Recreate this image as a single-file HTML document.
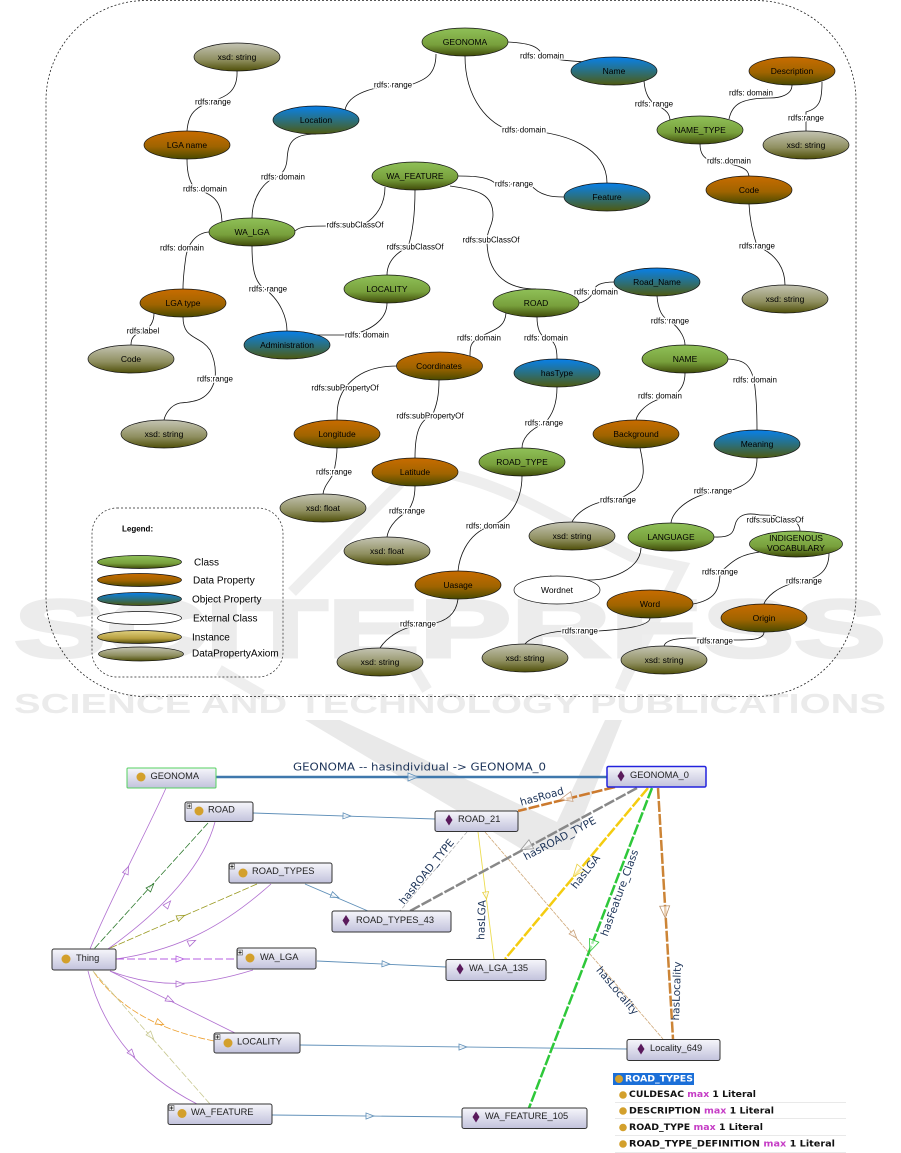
<!DOCTYPE html>
<html>
<head>
<meta charset="utf-8">
<style>
html,body{margin:0;padding:0;background:#fff;width:901px;height:1153px;overflow:hidden}
svg{display:block;filter:blur(0.35px)}
text{font-family:"Liberation Sans",Arial,sans-serif;fill:#000}
.n{rx:43px;ry:14px;stroke:#111;stroke-width:.7}
.nt{font-size:8.5px;text-anchor:middle;dominant-baseline:central}
.el{font-size:8px;text-anchor:middle;dominant-baseline:central;paint-order:stroke;stroke:#fff;stroke-width:2.5px}
.e path{fill:none;stroke:#111;stroke-width:.8}
.c{fill:url(#gc)}.d{fill:url(#gd)}.o{fill:url(#go)}.x{fill:url(#gx)}.w{fill:#fff}
.lg{font-size:10px;dominant-baseline:central}
.b{fill:url(#gb);stroke:#333;stroke-width:1}
.bt{font-size:9.3px;dominant-baseline:central;fill:#222}
.dot{fill:#d3a02c}
.dm{fill:#5a1a5c}
.ar{fill:#fff;fill-opacity:.6;stroke-width:.8}
.lb{font-family:"DejaVu Sans","Liberation Sans",sans-serif;font-size:10.5px;fill:#1c3358;text-anchor:middle;dominant-baseline:central}
.tb{font-family:"DejaVu Sans","Liberation Sans",sans-serif;font-size:9px;font-weight:bold;fill:#111;dominant-baseline:central}
.tb tspan{fill:#c53cc5}
</style>
</head>
<body>
<svg width="901" height="1153" viewBox="0 0 901 1153" xmlns="http://www.w3.org/2000/svg">
<defs>
<linearGradient id="gc" x1="0" y1="0" x2="0" y2="1"><stop offset="0" stop-color="#8fc058"/><stop offset=".6" stop-color="#78a03c"/><stop offset="1" stop-color="#3f4a08"/></linearGradient>
<linearGradient id="gd" x1="0" y1="0" x2="0" y2="1"><stop offset="0" stop-color="#c86c00"/><stop offset=".55" stop-color="#a06400"/><stop offset="1" stop-color="#4a4a00"/></linearGradient>
<linearGradient id="go" x1="0" y1="0" x2="0" y2="1"><stop offset="0" stop-color="#0880ea"/><stop offset=".5" stop-color="#2a7080"/><stop offset="1" stop-color="#4f5a10"/></linearGradient>
<linearGradient id="gx" x1="0" y1="0" x2="0" y2="1"><stop offset="0" stop-color="#c4c4b4"/><stop offset=".6" stop-color="#8f8f60"/><stop offset="1" stop-color="#4f4f08"/></linearGradient>
<linearGradient id="gi" x1="0" y1="0" x2="0" y2="1"><stop offset="0" stop-color="#e0d080"/><stop offset=".6" stop-color="#b8a040"/><stop offset="1" stop-color="#4f4a08"/></linearGradient>
<linearGradient id="gb" x1="0" y1="0" x2="0" y2="1"><stop offset="0" stop-color="#f6f6fb"/><stop offset="1" stop-color="#c2c2dc"/></linearGradient>
</defs>

<!-- watermark -->
<g>
<g fill="none" stroke="#eeeeee" stroke-width="11">
<path d="M405 478L292 592"/>
<path d="M450 474C520 490 575 530 633 557L682 567L623 683"/>
<path d="M219 670L262 695"/>
<path d="M415 670L427 690"/>
<path d="M632 662L620 690"/>
</g>
<polygon points="305,720 340,720 383,740 557,822 605,720 622,720 570,850 523,850" fill="#e9e9e9"/>
<text x="14" y="657" font-size="82" font-weight="bold" textLength="872" lengthAdjust="spacingAndGlyphs" style="fill:#ececec;stroke:#ececec;stroke-width:3">SCITEPRESS</text>
<text x="14" y="713" font-size="27.500" font-weight="bold" textLength="872" lengthAdjust="spacingAndGlyphs" style="fill:#ebebeb">SCIENCE AND TECHNOLOGY PUBLICATIONS</text>
</g>

<rect x="46" y="0.5" width="810" height="696" rx="100" ry="100" fill="none" stroke="#222" stroke-width=".8" stroke-dasharray="2 2"/>
<rect x="92" y="508" width="191" height="169" rx="25" ry="25" fill="none" stroke="#222" stroke-width=".7" stroke-dasharray="2 2"/>

<g class="e">
<path d="M237 71C238 92 225 97 213 101C191 108 188 118 187 131"/>
<path d="M436 54C436 75 425 80 410 85C370 85 348 95 345 110"/>
<path d="M316 134C290 134 288 145 287 160C286 170 282 172 280 176C262 180 252 200 252 218"/>
<path d="M187 159C187 175 190 182 195 189C218 195 221 205 222 222"/>
<path d="M385 187C385 210 370 222 360 226L328 226C310 226 300 226 295 231"/>
<path d="M415 190C415 215 412 235 408 247C392 255 387 265 387 275"/>
<path d="M209 232C195 233 188 245 186 256C184 270 183 280 183 289"/>
<path d="M252 246C252 270 255 280 262 287C282 300 287 320 287 331"/>
<path d="M387 303C387 320 370 331 350 335L316 335"/>
<path d="M154 313C154 322 150 328 143 331C132 335 131 340 131 345"/>
<path d="M183 317C183 340 200 335 210 350C215 360 216 370 215 379C210 400 195 402 180 403C170 405 165 415 164 420"/>
<path d="M397 366C370 366 355 375 345 388C337 400 337 410 337 420"/>
<path d="M439 380C439 395 437 405 432 416C417 420 415 440 415 458"/>
<path d="M337 448C337 458 335 465 334 472C331 480 324 485 323 494"/>
<path d="M415 486C415 498 412 505 408 511C393 520 388 530 387 537"/>
<path d="M522 476C522 500 510 520 490 526C465 535 459 560 458 571"/>
<path d="M458 599C456 615 445 622 430 624C400 625 385 640 380 648"/>
<path d="M557 387C557 405 552 415 545 423C528 430 522 440 522 448"/>
<path d="M537 317C537 328 540 336 546 338C556 340 557 350 557 359"/>
<path d="M506 313C505 330 490 330 479 338C470 342 470 348 470 356"/>
<path d="M450 186C480 190 493 195 493 215C493 225 487 230 487 240C487 285 520 289 536 289"/>
<path d="M458 176C480 176 490 178 496 184L530 184C540 197 555 197 564 197"/>
<path d="M465 56C465 100 490 125 510 130C570 130 607 150 607 183"/>
<path d="M508 42C525 43 540 45 542 56C560 61 575 61 585 62"/>
<path d="M644 81C645 95 650 100 654 104C668 110 670 115 670 121"/>
<path d="M792 85C792 95 780 98 770 98C740 98 732 105 729 119"/>
<path d="M822 82C822 100 820 108 806 112L806 131"/>
<path d="M700 144C700 155 705 158 710 161C745 165 748 170 749 176"/>
<path d="M749 204C750 225 755 240 757 246C778 255 785 270 785 285"/>
<path d="M615 282C600 282 595 285 593 292C590 300 580 303 579 303"/>
<path d="M657 296C658 310 662 318 670 321C682 330 685 340 685 345"/>
<path d="M728 359C745 360 750 365 754 380C757 400 757 420 757 430"/>
<path d="M685 373C685 385 680 392 672 396C645 400 637 415 636 420"/>
<path d="M640 448C645 470 645 480 635 490L618 500C590 500 575 515 572 522"/>
<path d="M757 458C757 480 745 485 730 491C695 490 672 510 671 523"/>
<path d="M714 537C735 538 733 530 736 522C740 513 750 513 760 515C790 515 800 522 800 531"/>
<path d="M641 548C640 570 610 580 590 580C575 580 565 578 550 576"/>
<path d="M760 552C735 555 730 565 720 572C720 590 715 600 693 604"/>
<path d="M829 553C829 570 820 577 804 581C775 585 765 600 764 604"/>
<path d="M650 618C650 625 630 629 598 631L563 631C540 633 528 640 525 644"/>
<path d="M764 632C764 640 750 640 735 640L695 638C670 638 665 642 664 646"/>
</g>

<g>
<ellipse class="n x" cx="237" cy="57"/>
<ellipse class="n d" cx="187" cy="145"/>
<ellipse class="n o" cx="316" cy="120"/>
<ellipse class="n c" cx="465" cy="42"/>
<ellipse class="n o" cx="614" cy="71"/>
<ellipse class="n d" cx="792" cy="71"/>
<ellipse class="n c" cx="700" cy="130"/>
<ellipse class="n x" cx="806" cy="145"/>
<ellipse class="n d" cx="749" cy="190"/>
<ellipse class="n o" cx="607" cy="197"/>
<ellipse class="n c" cx="415" cy="176"/>
<ellipse class="n c" cx="252" cy="232"/>
<ellipse class="n c" cx="387" cy="289"/>
<ellipse class="n d" cx="183" cy="303"/>
<ellipse class="n o" cx="287" cy="345"/>
<ellipse class="n c" cx="536" cy="303"/>
<ellipse class="n o" cx="657" cy="282"/>
<ellipse class="n x" cx="785" cy="299"/>
<ellipse class="n c" cx="685" cy="359"/>
<ellipse class="n o" cx="557" cy="373"/>
<ellipse class="n d" cx="439.500" cy="366"/>
<ellipse class="n x" cx="131" cy="359"/>
<ellipse class="n x" cx="164" cy="434"/>
<ellipse class="n d" cx="337" cy="434"/>
<ellipse class="n d" cx="415" cy="472"/>
<ellipse class="n x" cx="323" cy="508"/>
<ellipse class="n x" cx="387" cy="551"/>
<ellipse class="n d" cx="458" cy="585"/>
<ellipse class="n x" cx="380" cy="662"/>
<ellipse class="n c" cx="522" cy="462"/>
<ellipse class="n d" cx="636" cy="434"/>
<ellipse class="n o" cx="757" cy="444"/>
<ellipse class="n x" cx="572" cy="536"/>
<ellipse class="n c" cx="671" cy="537"/>
<ellipse class="n c" cx="796" cy="544" style="rx:46.500px;ry:13px"/>
<ellipse class="n w" cx="557" cy="590"/>
<ellipse class="n d" cx="650" cy="604"/>
<ellipse class="n d" cx="764" cy="618"/>
<ellipse class="n x" cx="525" cy="658"/>
<ellipse class="n x" cx="664" cy="660"/>
</g>

<g>
<text class="nt" x="237" y="57">xsd: string</text>
<text class="nt" x="187" y="145">LGA name</text>
<text class="nt" x="316" y="120">Location</text>
<text class="nt" x="465" y="42">GEONOMA</text>
<text class="nt" x="614" y="71">Name</text>
<text class="nt" x="792" y="71">Description</text>
<text class="nt" x="700" y="130">NAME_TYPE</text>
<text class="nt" x="806" y="145">xsd: string</text>
<text class="nt" x="749" y="190">Code</text>
<text class="nt" x="607" y="197">Feature</text>
<text class="nt" x="415" y="176">WA_FEATURE</text>
<text class="nt" x="252" y="232">WA_LGA</text>
<text class="nt" x="387" y="289">LOCALITY</text>
<text class="nt" x="183" y="303">LGA type</text>
<text class="nt" x="287" y="345">Administration</text>
<text class="nt" x="536" y="303">ROAD</text>
<text class="nt" x="657" y="282">Road_Name</text>
<text class="nt" x="785" y="299">xsd: string</text>
<text class="nt" x="685" y="359">NAME</text>
<text class="nt" x="557" y="373">hasType</text>
<text class="nt" x="439" y="366">Coordinates</text>
<text class="nt" x="131" y="359">Code</text>
<text class="nt" x="164" y="434">xsd: string</text>
<text class="nt" x="337" y="434">Longitude</text>
<text class="nt" x="415" y="472">Latitude</text>
<text class="nt" x="323" y="508">xsd: float</text>
<text class="nt" x="387" y="551">xsd: float</text>
<text class="nt" x="458" y="585">Uasage</text>
<text class="nt" x="380" y="662">xsd: string</text>
<text class="nt" x="522" y="462">ROAD_TYPE</text>
<text class="nt" x="636" y="434">Background</text>
<text class="nt" x="757" y="444">Meaning</text>
<text class="nt" x="572" y="536">xsd: string</text>
<text class="nt" x="671" y="537">LANGUAGE</text>
<text class="nt" x="796" y="538">INDIGENOUS</text>
<text class="nt" x="796" y="548">VOCABULARY</text>
<text class="nt" x="557" y="590">Wordnet</text>
<text class="nt" x="650" y="604">Word</text>
<text class="nt" x="764" y="618">Origin</text>
<text class="nt" x="525" y="658">xsd: string</text>
<text class="nt" x="664" y="660">xsd: string</text>
</g>

<g>
<text class="el" x="213" y="102">rdfs:range</text>
<text class="el" x="205" y="189">rdfs: domain</text>
<text class="el" x="283" y="177">rdfs: domain</text>
<text class="el" x="355" y="225">rdfs:subClassOf</text>
<text class="el" x="415" y="247">rdfs:subClassOf</text>
<text class="el" x="182" y="248">rdfs: domain</text>
<text class="el" x="268" y="289">rdfs: range</text>
<text class="el" x="143" y="331">rdfs:label</text>
<text class="el" x="367" y="335">rdfs: domain</text>
<text class="el" x="393" y="85">rdfs: range</text>
<text class="el" x="542" y="56">rdfs: domain</text>
<text class="el" x="654" y="104">rdfs: range</text>
<text class="el" x="751" y="93">rdfs: domain</text>
<text class="el" x="806" y="118">rdfs:range</text>
<text class="el" x="524" y="130">rdfs: domain</text>
<text class="el" x="729" y="161">rdfs: domain</text>
<text class="el" x="514" y="184">rdfs: range</text>
<text class="el" x="491" y="240">rdfs:subClassOf</text>
<text class="el" x="757" y="246">rdfs:range</text>
<text class="el" x="596" y="292">rdfs: domain</text>
<text class="el" x="670" y="321">rdfs: range</text>
<text class="el" x="479" y="338">rdfs: domain</text>
<text class="el" x="546" y="338">rdfs: domain</text>
<text class="el" x="215" y="379">rdfs:range</text>
<text class="el" x="345" y="388">rdfs:subPropertyOf</text>
<text class="el" x="430" y="416">rdfs:subPropertyOf</text>
<text class="el" x="334" y="472">rdfs:range</text>
<text class="el" x="407" y="511">rdfs:range</text>
<text class="el" x="418" y="624">rdfs:range</text>
<text class="el" x="755" y="380">rdfs: domain</text>
<text class="el" x="660" y="396">rdfs: domain</text>
<text class="el" x="544" y="423">rdfs: range</text>
<text class="el" x="618" y="500">rdfs:range</text>
<text class="el" x="713" y="491">rdfs: range</text>
<text class="el" x="488" y="526">rdfs: domain</text>
<text class="el" x="775" y="520">rdfs:subClassOf</text>
<text class="el" x="720" y="572">rdfs:range</text>
<text class="el" x="804" y="581">rdfs:range</text>
<text class="el" x="580" y="631">rdfs:range</text>
<text class="el" x="715" y="641">rdfs:range</text>
</g>

<!-- legend -->
<g stroke="#111" stroke-width=".7">
<ellipse cx="139.500" cy="562" rx="42" ry="6.500" fill="url(#gc)"/>
<ellipse cx="139.500" cy="580" rx="42" ry="6.500" fill="url(#gd)"/>
<ellipse cx="139.500" cy="599" rx="42" ry="6.500" fill="url(#go)"/>
<ellipse cx="139.500" cy="618" rx="42" ry="6.500" fill="#fff"/>
<ellipse cx="139.500" cy="637" rx="42" ry="6.500" fill="url(#gi)"/>
<ellipse cx="141" cy="654" rx="42.500" ry="7" fill="url(#gx)"/>
</g>
<text x="122" y="529" font-size="8" font-weight="bold" dominant-baseline="central">Legend:</text>
<text class="lg" x="194" y="563">Class</text>
<text class="lg" x="193" y="581">Data Property</text>
<text class="lg" x="192" y="600">Object Property</text>
<text class="lg" x="193" y="619">External Class</text>
<text class="lg" x="192" y="638">Instance</text>
<text class="lg" x="192" y="654">DataPropertyAxiom</text>

<!-- lower: thin edges -->
<g fill="none" stroke="#b06fd0" stroke-width=".8">
<path d="M166 788C150 825 110 900 90 949"/>
<path d="M215 822C205 860 170 905 108 949"/>
<path d="M271 884C225 925 180 950 116 959"/>
<path d="M253 970C205 985 160 990 110 971"/>
<path d="M235 1033L110 971"/>
<path d="M197 1104C150 1080 105 1040 88 971"/>
</g>
<path d="M116 959H237" fill="none" stroke="#b45ce0" stroke-width="1" stroke-dasharray="8 3"/>
<path d="M208 823L94 949" fill="none" stroke="#2f7a2f" stroke-width=".8" stroke-dasharray="7 2"/>
<path d="M257 884L108 949" fill="none" stroke="#9a9a20" stroke-width=".8" stroke-dasharray="7 2"/>
<path d="M214 1041C160 1030 120 1010 93 971" fill="none" stroke="#eda030" stroke-width=".8" stroke-dasharray="7 2"/>
<path d="M210 1104L93 971" fill="none" stroke="#c8c890" stroke-width=".8" stroke-dasharray="7 2"/>

<g fill="none" stroke="#5f8fb8" stroke-width=".9">
<path d="M253 813L435 819"/>
<path d="M305 884L368 911"/>
<path d="M317 961L446 967"/>
<path d="M300 1045L627 1049"/>
<path d="M272 1115L462 1117"/>
</g>
<path d="M216 777H607" stroke="#3f78ac" stroke-width="2.500" fill="none"/>

<path d="M467 832L400 911" stroke="#aaa" stroke-width=".7" stroke-dasharray="4 2" fill="none"/>
<path d="M478 832L494 959" stroke="#ecdc50" stroke-width=".9" fill="none"/>
<path d="M485 832L663 1039" stroke="#cfa878" stroke-width=".8" stroke-dasharray="4 1" fill="none"/>
<g fill="none" stroke-width="2.500" stroke-dasharray="11 2">
<path d="M615 787L518 811" stroke="#cc7a2e"/>
<path d="M637 788L410 911" stroke="#888"/>
<path d="M648 788L505 959" stroke="#f4cc10"/>
<path d="M652 788L529 1108" stroke="#2ec83a"/>
<path d="M658 788L673 1039" stroke="#cc8436"/>
</g>

<!-- arrowheads -->
<g class="ar">
<path stroke="#5f8fb8" d="M-5-4L5 0L-5 4Z" transform="translate(413,777)"/>
<path stroke="#b06fd0" d="M-4-3L4 0L-4 3Z" transform="translate(127,870) rotate(-66)"/>
<path stroke="#2f7a2f" d="M-4-3L4 0L-4 3Z" transform="translate(151,887) rotate(-48)"/>
<path stroke="#b06fd0" d="M-4-3L4 0L-4 3Z" transform="translate(168,904) rotate(-50)"/>
<path stroke="#9a9a20" d="M-4-3L4 0L-4 3Z" transform="translate(181,917) rotate(-24)"/>
<path stroke="#b06fd0" d="M-4-3L4 0L-4 3Z" transform="translate(192,942) rotate(-25)"/>
<path stroke="#b45ce0" d="M-4-3L4 0L-4 3Z" transform="translate(180,959)"/>
<path stroke="#b06fd0" d="M-4-3L4 0L-4 3Z" transform="translate(180,984)"/>
<path stroke="#b06fd0" d="M-4-3L4 0L-4 3Z" transform="translate(170,1000) rotate(27)"/>
<path stroke="#eda030" d="M-4-3L4 0L-4 3Z" transform="translate(160,1023) rotate(24)"/>
<path stroke="#c8c890" d="M-4-3L4 0L-4 3Z" transform="translate(151,1036) rotate(49)"/>
<path stroke="#b06fd0" d="M-4-3L4 0L-4 3Z" transform="translate(132,1054) rotate(50)"/>
<path stroke="#5f8fb8" d="M-4-3L4 0L-4 3Z" transform="translate(347,816) rotate(2)"/>
<path stroke="#5f8fb8" d="M-4-3L4 0L-4 3Z" transform="translate(335,896) rotate(23)"/>
<path stroke="#5f8fb8" d="M-4-3L4 0L-4 3Z" transform="translate(386,964) rotate(3)"/>
<path stroke="#5f8fb8" d="M-4-3L4 0L-4 3Z" transform="translate(463,1047)"/>
<path stroke="#5f8fb8" d="M-4-3L4 0L-4 3Z" transform="translate(370,1116)"/>
<path stroke="#c8a080" d="M-6-5L6 0L-6 5Z" transform="translate(566,798) rotate(166)"/>
<path stroke="#999" d="M-6-5L6 0L-6 5Z" transform="translate(526,847) rotate(152)"/>
<path stroke="#e8d040" d="M-6-5L6 0L-6 5Z" transform="translate(577,872) rotate(130)"/>
<path stroke="#2ec83a" d="M-6-5L6 0L-6 5Z" transform="translate(592,946) rotate(111)"/>
<path stroke="#b8906a" d="M-6-5L6 0L-6 5Z" transform="translate(665,912) rotate(87)"/>
<path stroke="#e8d040" d="M-3-3L4 0L-3 3Z" transform="translate(486,895) rotate(83)"/>
<path stroke="#c8a078" d="M-4-3L4 0L-4 3Z" transform="translate(574,935) rotate(49)"/>
</g>

<!-- boxes -->
<g>
<rect class="b" x="127" y="768" width="89" height="20" rx="1" style="stroke:#55d060"/>
<rect class="b" x="185" y="802" width="68" height="19.500" rx="2"/>
<rect class="b" x="229" y="863" width="103" height="20" rx="2"/>
<rect class="b" x="332" y="911" width="119" height="21" rx="2"/>
<rect class="b" x="52" y="949" width="64" height="21" rx="2"/>
<rect class="b" x="237" y="948" width="79" height="21" rx="2"/>
<rect class="b" x="214" y="1033" width="86" height="20" rx="2"/>
<rect class="b" x="168" y="1104" width="104" height="20.500" rx="2"/>
<rect class="b" x="607" y="766.500" width="99" height="20.500" rx="1.500" style="stroke:#2222dd;stroke-width:1.500"/>
<rect class="b" x="435" y="811" width="83" height="20.500" rx="2"/>
<rect class="b" x="446" y="959.500" width="100" height="21" rx="2"/>
<rect class="b" x="627" y="1039.500" width="93" height="21" rx="2"/>
<rect class="b" x="462" y="1108" width="125" height="20.500" rx="2"/>
</g>
<g stroke="#333" stroke-width=".5" fill="#eee">
<rect x="187" y="803.500" width="4.500" height="5"/><rect x="229.500" y="864" width="5" height="5"/><rect x="237.500" y="950" width="5" height="5"/><rect x="215" y="1034.500" width="5" height="5"/><rect x="169" y="1105.500" width="5" height="5"/>
</g>
<g stroke="#111" stroke-width=".7" fill="none">
<path d="M187.800 806H190.700M189.250 804.500V807.500M230.300 866.500H233.700M232 864.800V868.200M238.300 952.500H241.700M240 950.800V954.200M215.800 1037H219.200M217.500 1035.300V1038.700M169.800 1108H173.200M171.500 1106.300V1109.700"/>
</g>
<g class="dot">
<circle cx="141" cy="777" r="4.500"/><circle cx="199" cy="811" r="4.500"/><circle cx="243" cy="873" r="4.500"/><circle cx="66" cy="959" r="4.500"/><circle cx="250" cy="958" r="4.500"/><circle cx="228" cy="1043" r="4.500"/><circle cx="182" cy="1113.500" r="4.500"/>
</g>
<g class="dm">
<path d="M621 770.500l3.500 5.500l-3.500 5.500l-3.500-5.500z"/>
<path d="M449 814.500l3.500 5.500l-3.500 5.500l-3.500-5.500z"/>
<path d="M346 915l3.500 5.500l-3.500 5.500l-3.500-5.500z"/>
<path d="M460 963.500l3.500 5.500l-3.500 5.500l-3.500-5.500z"/>
<path d="M641 1043.500l3.500 5.500l-3.500 5.500l-3.500-5.500z"/>
<path d="M476 1111.500l3.500 5.500l-3.500 5.500l-3.500-5.500z"/>
</g>
<text class="bt" x="150.500" y="776">GEONOMA</text>
<text class="bt" x="208" y="809.500">ROAD</text>
<text class="bt" x="252" y="871">ROAD_TYPES</text>
<text class="bt" x="356" y="920">ROAD_TYPES_43</text>
<text class="bt" x="76" y="958">Thing</text>
<text class="bt" x="260" y="957">WA_LGA</text>
<text class="bt" x="237" y="1041.500">LOCALITY</text>
<text class="bt" x="191" y="1112">WA_FEATURE</text>
<text class="bt" x="630" y="775">GEONOMA_0</text>
<text class="bt" x="458" y="819">ROAD_21</text>
<text class="bt" x="469" y="968">WA_LGA_135</text>
<text class="bt" x="650" y="1048">Locality_649</text>
<text class="bt" x="485" y="1116">WA_FEATURE_105</text>

<!-- lower labels -->
<text x="293" y="767" textLength="253" lengthAdjust="spacingAndGlyphs" dominant-baseline="central" style="font-family:'DejaVu Sans',sans-serif;font-size:11px;fill:#1c3358">GEONOMA -- hasindividual -&gt; GEONOMA_0</text>
<text class="lb" transform="translate(542,797) rotate(-15)">hasRoad</text>
<text class="lb" transform="translate(560,839) rotate(-28)">hasROAD_TYPE</text>
<text class="lb" transform="translate(427,872) rotate(-51)">hasROAD_TYPE</text>
<text class="lb" transform="translate(586,872) rotate(-52)">hasLGA</text>
<text class="lb" transform="translate(482,920) rotate(-88)">hasLGA</text>
<text class="lb" transform="translate(620,893) rotate(-70)">hasFeature_Class</text>
<text class="lb" transform="translate(677,991) rotate(-88)">hasLocality</text>
<text class="lb" transform="translate(617,991) rotate(50)">hasLocality</text>

<!-- table -->
<rect x="613" y="1073" width="81" height="12" fill="#1b6fd8"/>
<circle cx="619" cy="1079" r="4" fill="#d3a02c"/>
<text class="tb" x="625" y="1079.500" textLength="68" lengthAdjust="spacingAndGlyphs" style="fill:#fff">ROAD_TYPES</text>
<g class="dot"><circle cx="623" cy="1095" r="3.800"/><circle cx="623" cy="1111" r="3.800"/><circle cx="623" cy="1127.500" r="3.800"/><circle cx="623" cy="1144" r="3.800"/></g>
<text class="tb" x="629" y="1095" textLength="127" lengthAdjust="spacingAndGlyphs">CULDESAC <tspan>max</tspan> 1 Literal</text>
<text class="tb" x="629" y="1111.500" textLength="145" lengthAdjust="spacingAndGlyphs">DESCRIPTION <tspan>max</tspan> 1 Literal</text>
<text class="tb" x="629" y="1128" textLength="134" lengthAdjust="spacingAndGlyphs">ROAD_TYPE <tspan>max</tspan> 1 Literal</text>
<text class="tb" x="629" y="1144.500" textLength="206" lengthAdjust="spacingAndGlyphs">ROAD_TYPE_DEFINITION <tspan>max</tspan> 1 Literal</text>
<g stroke="#e2e2e2" stroke-width=".8">
<path d="M615 1102.500H846M615 1118.500H846M615 1135.500H846M615 1152.500H846"/>
</g>
</svg>
</body>
</html>
